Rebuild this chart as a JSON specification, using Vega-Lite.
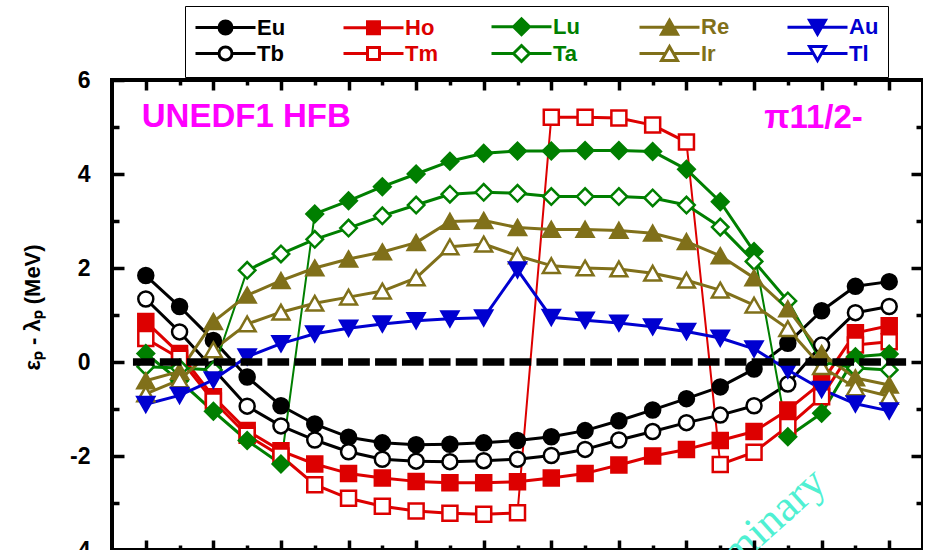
{
  "$schema": "https://vega.github.io/schema/vega-lite/v6.json",
  "width": 811,
  "height": 470,
  "autosize": {"type": "none"},
  "padding": {"left": 112, "top": 80, "right": 0, "bottom": 0},
  "background": "#FFFFFF",
  "config": {
    "view": {"stroke": "#000000", "strokeWidth": 4},
    "font": "Liberation Sans",
    "axis": {
      "domain": false, "grid": false, "zindex": 1,
      "tickColor": "#000000", "tickWidth": 3.5,
      "labelFont": "Liberation Sans", "labelFontWeight": "bold", "labelFontSize": 23, "labelColor": "#000000"
    }
  },
  "datasets": {
    "levels": [
      {"series":"Eu","step":1,"y":1.84},{"series":"Eu","step":2,"y":1.18},{"series":"Eu","step":3,"y":0.46},{"series":"Eu","step":4,"y":-0.32},{"series":"Eu","step":5,"y":-0.93},{"series":"Eu","step":6,"y":-1.32},{"series":"Eu","step":7,"y":-1.60},{"series":"Eu","step":8,"y":-1.72},{"series":"Eu","step":9,"y":-1.76},{"series":"Eu","step":10,"y":-1.75},{"series":"Eu","step":11,"y":-1.72},{"series":"Eu","step":12,"y":-1.67},{"series":"Eu","step":13,"y":-1.59},{"series":"Eu","step":14,"y":-1.46},{"series":"Eu","step":15,"y":-1.25},{"series":"Eu","step":16,"y":-1.02},{"series":"Eu","step":17,"y":-0.78},{"series":"Eu","step":18,"y":-0.53},{"series":"Eu","step":19,"y":-0.15},{"series":"Eu","step":20,"y":0.40},{"series":"Eu","step":21,"y":1.09},{"series":"Eu","step":22,"y":1.61},{"series":"Eu","step":23,"y":1.71},
      {"series":"Tb","step":1,"y":1.34},{"series":"Tb","step":2,"y":0.64},{"series":"Tb","step":3,"y":-0.15},{"series":"Tb","step":4,"y":-0.94},{"series":"Tb","step":5,"y":-1.36},{"series":"Tb","step":6,"y":-1.66},{"series":"Tb","step":7,"y":-1.91},{"series":"Tb","step":8,"y":-2.07},{"series":"Tb","step":9,"y":-2.11},{"series":"Tb","step":10,"y":-2.12},{"series":"Tb","step":11,"y":-2.10},{"series":"Tb","step":12,"y":-2.07},{"series":"Tb","step":13,"y":-1.99},{"series":"Tb","step":14,"y":-1.86},{"series":"Tb","step":15,"y":-1.66},{"series":"Tb","step":16,"y":-1.48},{"series":"Tb","step":17,"y":-1.29},{"series":"Tb","step":18,"y":-1.13},{"series":"Tb","step":19,"y":-0.93},{"series":"Tb","step":20,"y":-0.47},{"series":"Tb","step":21,"y":0.36},{"series":"Tb","step":22,"y":1.05},{"series":"Tb","step":23,"y":1.18},
      {"series":"Ho","step":1,"y":0.86},{"series":"Ho","step":2,"y":0.18},{"series":"Ho","step":3,"y":-0.74},{"series":"Ho","step":4,"y":-1.46},{"series":"Ho","step":5,"y":-1.89},{"series":"Ho","step":6,"y":-2.17},{"series":"Ho","step":7,"y":-2.37},{"series":"Ho","step":8,"y":-2.47},{"series":"Ho","step":9,"y":-2.54},{"series":"Ho","step":10,"y":-2.57},{"series":"Ho","step":11,"y":-2.57},{"series":"Ho","step":12,"y":-2.55},{"series":"Ho","step":13,"y":-2.47},{"series":"Ho","step":14,"y":-2.37},{"series":"Ho","step":15,"y":-2.19},{"series":"Ho","step":16,"y":-2.00},{"series":"Ho","step":17,"y":-1.86},{"series":"Ho","step":18,"y":-1.67},{"series":"Ho","step":19,"y":-1.48},{"series":"Ho","step":20,"y":-1.02},{"series":"Ho","step":21,"y":-0.44},{"series":"Ho","step":22,"y":0.62},{"series":"Ho","step":23,"y":0.77},
      {"series":"Tm","step":1,"y":0.50},{"series":"Tm","step":2,"y":0.08},{"series":"Tm","step":3,"y":-0.83},{"series":"Tm","step":4,"y":-1.56},{"series":"Tm","step":5,"y":-2.00},{"series":"Tm","step":6,"y":-2.61},{"series":"Tm","step":7,"y":-2.90},{"series":"Tm","step":8,"y":-3.07},{"series":"Tm","step":9,"y":-3.17},{"series":"Tm","step":10,"y":-3.22},{"series":"Tm","step":11,"y":-3.24},{"series":"Tm","step":12,"y":-3.21},{"series":"Tm","step":13,"y":5.21},{"series":"Tm","step":14,"y":5.21},{"series":"Tm","step":15,"y":5.19},{"series":"Tm","step":16,"y":5.04},{"series":"Tm","step":17,"y":4.68},{"series":"Tm","step":18,"y":-2.18},{"series":"Tm","step":19,"y":-1.92},{"series":"Tm","step":20,"y":-1.37},{"series":"Tm","step":21,"y":-0.74},{"series":"Tm","step":22,"y":0.36},{"series":"Tm","step":23,"y":0.43},
      {"series":"Lu","step":1,"y":0.18},{"series":"Lu","step":2,"y":-0.40},{"series":"Lu","step":3,"y":-1.05},{"series":"Lu","step":4,"y":-1.67},{"series":"Lu","step":5,"y":-2.17},{"series":"Lu","step":6,"y":3.15},{"series":"Lu","step":7,"y":3.43},{"series":"Lu","step":8,"y":3.73},{"series":"Lu","step":9,"y":4.00},{"series":"Lu","step":10,"y":4.27},{"series":"Lu","step":11,"y":4.44},{"series":"Lu","step":12,"y":4.49},{"series":"Lu","step":13,"y":4.49},{"series":"Lu","step":14,"y":4.50},{"series":"Lu","step":15,"y":4.50},{"series":"Lu","step":16,"y":4.48},{"series":"Lu","step":17,"y":4.10},{"series":"Lu","step":18,"y":3.41},{"series":"Lu","step":19,"y":2.35},{"series":"Lu","step":20,"y":-1.59},{"series":"Lu","step":21,"y":-1.09},{"series":"Lu","step":22,"y":0.11},{"series":"Lu","step":23,"y":0.17},
      {"series":"Ta","step":1,"y":-0.10},{"series":"Ta","step":2,"y":-0.13},{"series":"Ta","step":3,"y":-0.17},{"series":"Ta","step":4,"y":1.95},{"series":"Ta","step":5,"y":2.30},{"series":"Ta","step":6,"y":2.61},{"series":"Ta","step":7,"y":2.85},{"series":"Ta","step":8,"y":3.11},{"series":"Ta","step":9,"y":3.34},{"series":"Ta","step":10,"y":3.57},{"series":"Ta","step":11,"y":3.61},{"series":"Ta","step":12,"y":3.59},{"series":"Ta","step":13,"y":3.52},{"series":"Ta","step":14,"y":3.52},{"series":"Ta","step":15,"y":3.52},{"series":"Ta","step":16,"y":3.49},{"series":"Ta","step":17,"y":3.34},{"series":"Ta","step":18,"y":2.87},{"series":"Ta","step":19,"y":2.14},{"series":"Ta","step":20,"y":1.30},{"series":"Ta","step":21,"y":0.00},{"series":"Ta","step":22,"y":-0.13},{"series":"Ta","step":23,"y":-0.17},
      {"series":"Re","step":1,"y":-0.40},{"series":"Re","step":2,"y":-0.20},{"series":"Re","step":3,"y":0.86},{"series":"Re","step":4,"y":1.42},{"series":"Re","step":5,"y":1.73},{"series":"Re","step":6,"y":2.00},{"series":"Re","step":7,"y":2.19},{"series":"Re","step":8,"y":2.34},{"series":"Re","step":9,"y":2.54},{"series":"Re","step":10,"y":2.99},{"series":"Re","step":11,"y":3.01},{"series":"Re","step":12,"y":2.86},{"series":"Re","step":13,"y":2.82},{"series":"Re","step":14,"y":2.82},{"series":"Re","step":15,"y":2.80},{"series":"Re","step":16,"y":2.74},{"series":"Re","step":17,"y":2.56},{"series":"Re","step":18,"y":2.26},{"series":"Re","step":19,"y":1.79},{"series":"Re","step":20,"y":1.13},{"series":"Re","step":21,"y":0.18},{"series":"Re","step":22,"y":-0.34},{"series":"Re","step":23,"y":-0.49},
      {"series":"Ir","step":1,"y":-0.68},{"series":"Ir","step":2,"y":-0.38},{"series":"Ir","step":3,"y":0.26},{"series":"Ir","step":4,"y":0.81},{"series":"Ir","step":5,"y":1.06},{"series":"Ir","step":6,"y":1.25},{"series":"Ir","step":7,"y":1.38},{"series":"Ir","step":8,"y":1.51},{"series":"Ir","step":9,"y":1.79},{"series":"Ir","step":10,"y":2.45},{"series":"Ir","step":11,"y":2.51},{"series":"Ir","step":12,"y":2.26},{"series":"Ir","step":13,"y":2.05},{"series":"Ir","step":14,"y":2.00},{"series":"Ir","step":15,"y":1.98},{"series":"Ir","step":16,"y":1.89},{"series":"Ir","step":17,"y":1.74},{"series":"Ir","step":18,"y":1.53},{"series":"Ir","step":19,"y":1.21},{"series":"Ir","step":20,"y":0.71},{"series":"Ir","step":21,"y":-0.10},{"series":"Ir","step":22,"y":-0.55},{"series":"Ir","step":23,"y":-0.73},
      {"series":"Au","step":1,"y":-0.90},{"series":"Au","step":2,"y":-0.71},{"series":"Au","step":3,"y":-0.38},{"series":"Au","step":4,"y":0.11},{"series":"Au","step":5,"y":0.39},{"series":"Au","step":6,"y":0.60},{"series":"Au","step":7,"y":0.72},{"series":"Au","step":8,"y":0.81},{"series":"Au","step":9,"y":0.88},{"series":"Au","step":10,"y":0.92},{"series":"Au","step":11,"y":0.94},{"series":"Au","step":12,"y":1.96},{"series":"Au","step":13,"y":0.95},{"series":"Au","step":14,"y":0.89},{"series":"Au","step":15,"y":0.83},{"series":"Au","step":16,"y":0.75},{"series":"Au","step":17,"y":0.65},{"series":"Au","step":18,"y":0.51},{"series":"Au","step":19,"y":0.28},{"series":"Au","step":20,"y":-0.17},{"series":"Au","step":21,"y":-0.58},{"series":"Au","step":22,"y":-0.89},{"series":"Au","step":23,"y":-1.04}
    ]
  },
  "data": {"name": "levels"},
  "layer": [
    {
      "data": {"values": [{}]},
      "mark": {"type": "text", "text": "Preliminary", "font": "Liberation Serif", "fontSize": 44, "color": "#4FF0D2", "angle": -42, "align": "right", "baseline": "alphabetic"},
      "encoding": {
        "x": {
          "datum": 21.2, "type": "quantitative",
          "axis": {"orient": "bottom", "zindex": 2, "title": null, "labels": false, "values": [2,4,6,8,10,12,14,16,18,20,22], "tickSize": 5, "offset": -5}
        },
        "y": {
          "datum": -2.64, "type": "quantitative",
          "axis": {"orient": "left", "zindex": 2, "title": null, "labels": false, "values": [-3,-1,1,3,5], "tickSize": 7, "offset": -7}
        }
      }
    },
    {
      "transform": [
        {"window": [{"op": "lag", "field": "step", "as": "step0"}, {"op": "lag", "field": "y", "as": "y0"}], "groupby": ["series"], "sort": [{"field": "step", "order": "ascending"}]},
        {"filter": "datum.step0 != null"}
      ],
      "mark": {"type": "rule", "strokeCap": "round"},
      "encoding": {
        "x": {
          "field": "step0", "type": "quantitative",
          "scale": {"domain": [0, 24], "nice": false, "zero": false},
          "axis": {"orient": "bottom", "zindex": 2, "title": null, "labels": false, "values": [1,3,5,7,9,11,13,15,17,19,21,23], "tickSize": 10, "offset": -10}
        },
        "x2": {"field": "step"},
        "y": {
          "field": "y0", "type": "quantitative",
          "scale": {"domain": [-4, 6], "nice": false, "zero": false},
          "axis": {
            "orient": "left", "zindex": 2,
            "values": [-4,-2,0,2,4,6],
            "labelExpr": "'' + datum.value",
            "tickSize": 12, "offset": -12, "labelPadding": 22,
            "title": "εₚ - λₚ (MeV)",
            "titleFont": "Liberation Sans", "titleFontWeight": "bold", "titleFontSize": 22,
            "titleAngle": -90, "titleAlign": "center", "titleBaseline": "alphabetic",
            "titleX": -85, "titleY": 227
          }
        },
        "y2": {"field": "y"},
        "stroke": {
          "field": "series", "type": "nominal",
          "scale": {
            "domain": ["Eu","Tb","Ho","Tm","Lu","Ta","Re","Ir","Au"],
            "range": ["#000000","#000000","#DD0000","#DD0000","#007F00","#007F00","#80701A","#80701A","#0000D0"]
          },
          "legend": null
        },
        "strokeWidth": {"condition": {"test": "abs(datum.y - datum.y0) > 2", "value": 2}, "value": 3}
      }
    },
    {
      "mark": {"type": "point", "filled": false, "opacity": 1, "strokeWidth": 2.5, "size": 225},
      "encoding": {
        "x": {
          "field": "step", "type": "quantitative",
          "scale": {"domain": [0, 24], "nice": false, "zero": false},
          "axis": {"orient": "top", "zindex": 2, "title": null, "labels": false, "values": [1,3,5,7,9,11,13,15,17,19,21,23], "tickSize": 10, "offset": -10}
        },
        "y": {
          "field": "y", "type": "quantitative",
          "scale": {"domain": [-4, 6], "nice": false, "zero": false},
          "axis": {"orient": "right", "zindex": 2, "title": null, "labels": false, "values": [-2,0,2,4], "tickSize": 12, "offset": -12}
        },
        "color": {
          "field": "series", "type": "nominal",
          "scale": {
            "domain": ["Eu","Tb","Ho","Tm","Lu","Ta","Re","Ir","Au","Tl"],
            "range": ["#000000","#000000","#DD0000","#DD0000","#007F00","#007F00","#80701A","#80701A","#0000D0","#0000D0"]
          },
          "legend": {
            "title": null,
            "orient": "none", "legendX": 73, "legendY": -74,
            "direction": "vertical", "columns": 5, "gridAlign": "all",
            "columnPadding": 47, "rowPadding": -2, "padding": 9,
            "fillColor": "white", "strokeColor": "#000000",
            "symbolSize": 400, "symbolStrokeWidth": 3, "symbolOpacity": 1, "symbolOffset": 20,
            "symbolType": {"expr": "indexof(['Eu','Tb'], datum.value) >= 0 ? 'M-3,0H-0.65M0.65,0H3M-0.65,0A0.65,0.65 0 1,1 0.65,0A0.65,0.65 0 1,1 -0.65,0Z' : indexof(['Ho','Tm'], datum.value) >= 0 ? 'M-3,0H-0.6M0.6,0H3M-0.6,-0.6H0.6V0.6H-0.6Z' : indexof(['Lu','Ta'], datum.value) >= 0 ? 'M-3,0H-0.8M0.8,0H3M-0.8,0L0,-0.8L0.8,0L0,0.8Z' : indexof(['Re','Ir'], datum.value) >= 0 ? 'M-3,0H-0.4M0.4,0H3M0,-0.7L0.8,0.7L-0.8,0.7Z' : 'M-3,0H-0.4M0.4,0H3M0,0.7L0.8,-0.7L-0.8,-0.7Z'"},
            "symbolFillColor": {"expr": "indexof(['Eu','Ho','Lu','Re','Au'], datum.value) >= 0 ? scale('color', datum.value) : 'white'"},
            "labelColor": {"expr": "scale('color', datum.value)"},
            "labelFont": "Liberation Sans", "labelFontWeight": "bold", "labelFontSize": 22, "labelOffset": 20
          }
        },
        "fill": {
          "field": "series", "type": "nominal",
          "scale": {
            "domain": ["Eu","Tb","Ho","Tm","Lu","Ta","Re","Ir","Au"],
            "range": ["#000000","#FFFFFF","#DD0000","#FFFFFF","#007F00","#FFFFFF","#80701A","#FFFFFF","#0000D0"]
          },
          "legend": null
        },
        "shape": {
          "field": "series", "type": "nominal",
          "scale": {
            "domain": ["Eu","Tb","Ho","Tm","Lu","Ta","Re","Ir","Au"],
            "range": ["circle","circle","square","square","M-1.1,0L0,-1.1L1.1,0L0,1.1Z","M-1.1,0L0,-1.1L1.1,0L0,1.1Z","M0,-0.98L1.12,0.98L-1.12,0.98Z","M0,-0.98L1.12,0.98L-1.12,0.98Z","M0,0.98L1.12,-0.98L-1.12,-0.98Z"]
          },
          "legend": null
        }
      }
    },
    {
      "data": {"values": [{}]},
      "mark": {"type": "text", "text": "UNEDF1 HFB", "font": "Liberation Sans", "fontWeight": "bold", "fontSize": 33, "color": "#FF00FF", "align": "left", "baseline": "alphabetic"},
      "encoding": {
        "x": {
          "datum": 0.88, "type": "quantitative",
          "axis": {"orient": "top", "zindex": 2, "title": null, "labels": false, "values": [2,4,6,8,10,12,14,16,18,20,22], "tickSize": 5, "offset": -5}
        },
        "y": {
          "datum": 5.0, "type": "quantitative",
          "axis": {"orient": "right", "zindex": 2, "title": null, "labels": false, "values": [-3,-1,1,3,5], "tickSize": 7, "offset": -7}
        }
      }
    },
    {
      "data": {"values": [{}]},
      "mark": {"type": "text", "text": "π11/2-", "font": "Liberation Sans", "fontWeight": "bold", "fontSize": 33, "color": "#FF00FF", "align": "right", "baseline": "alphabetic"},
      "encoding": {
        "x": {"datum": 22.22, "type": "quantitative", "axis": null},
        "y": {"datum": 4.97, "type": "quantitative", "axis": null}
      }
    },
    {
      "data": {"values": [{}]},
      "mark": {"type": "rule", "color": "#000000", "strokeWidth": 7.5, "strokeDash": [21.7, 5.2], "strokeCap": "butt"},
      "encoding": {
        "x": {"datum": 0.62, "type": "quantitative", "axis": null},
        "x2": {"datum": 23.5},
        "y": {"datum": 0, "type": "quantitative", "axis": null}
      }
    }
  ],
  "resolve": {"axis": {"x": "independent", "y": "independent"}}
}
